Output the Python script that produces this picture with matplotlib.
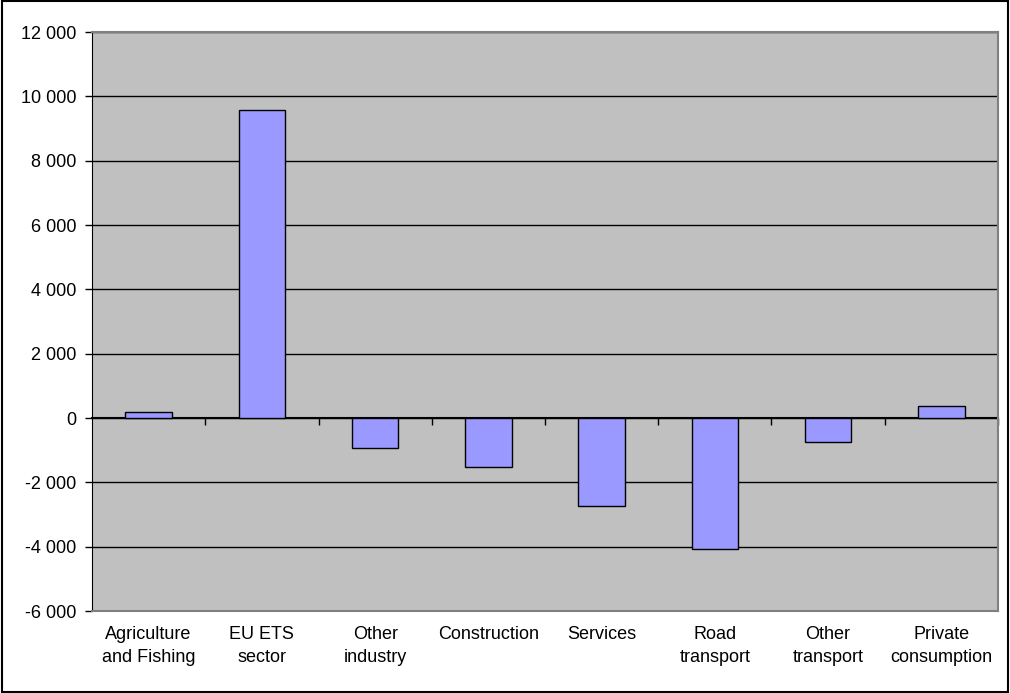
import matplotlib.pyplot as plt
from matplotlib.ticker import FuncFormatter, FixedLocator
import numpy as np

# data
sectors = ['Agriculture\nand Fishing', 'EU ETS\nsector', 'Other\nindustry', 'Construction',
           'Services', 'Road\ntransport', 'Other\ntransport', 'Private\nconsumption']
values = [180, 9580, -940, -1510, -2730, -4060, -760, 360]
y_ticks = [-6000, -4000, -2000, 0, 2000, 4000, 6000, 8000, 10000, 12000]

plt.rcParams['font.family'] = ['Liberation Sans', 'DejaVu Sans']

fig = plt.figure(figsize=(10.1, 6.93), dpi=100)
ax = fig.add_axes([0.0911, 0.1183, 0.8970, 0.8355])

x = np.arange(len(sectors))
ax.set_facecolor('#C0C0C0')
ax.bar(x, values, width=0.41, color='#9999FF', edgecolor='black', linewidth=1, zorder=3)

ax.set_xlim(-0.5, len(sectors) - 0.5)
ax.set_ylim(-6000, 12000)
ax.set_yticks(y_ticks)
ax.yaxis.set_major_formatter(FuncFormatter(lambda v, p: f'{int(v):,}'.replace(',', ' ')))
ax.grid(axis='y', color='black', linewidth=1, zorder=1)
ax.set_axisbelow(True)

ax.set_xticks(x)
ax.set_xticklabels(sectors, fontsize=13, linespacing=1.45)
ax.tick_params(axis='x', length=0, pad=11)
ax.tick_params(axis='y', labelsize=13, length=5, width=1, pad=6)

for side in ['top', 'right', 'bottom']:
    ax.spines[side].set_color('#808080')
    ax.spines[side].set_linewidth(1.5)
ax.spines['left'].set_color('black')

# category axis crossing at zero, ticks between categories
sec = ax.secondary_xaxis(1 / 3)
sec.xaxis.set_major_locator(FixedLocator(np.arange(0.5, len(sectors), 1)))
sec.tick_params(axis='x', direction='out', length=5, width=1, labelbottom=False, labeltop=False)
sec.spines['bottom'].set_color('black')
sec.spines['bottom'].set_linewidth(1.5)
sec.spines['top'].set_visible(False)

fig.patches.append(plt.Rectangle((0.002, 0.002), 0.996, 0.996, transform=fig.transFigure,
                                 fill=False, edgecolor='black', linewidth=1.5))

fig.savefig('out.png', dpi=100)
